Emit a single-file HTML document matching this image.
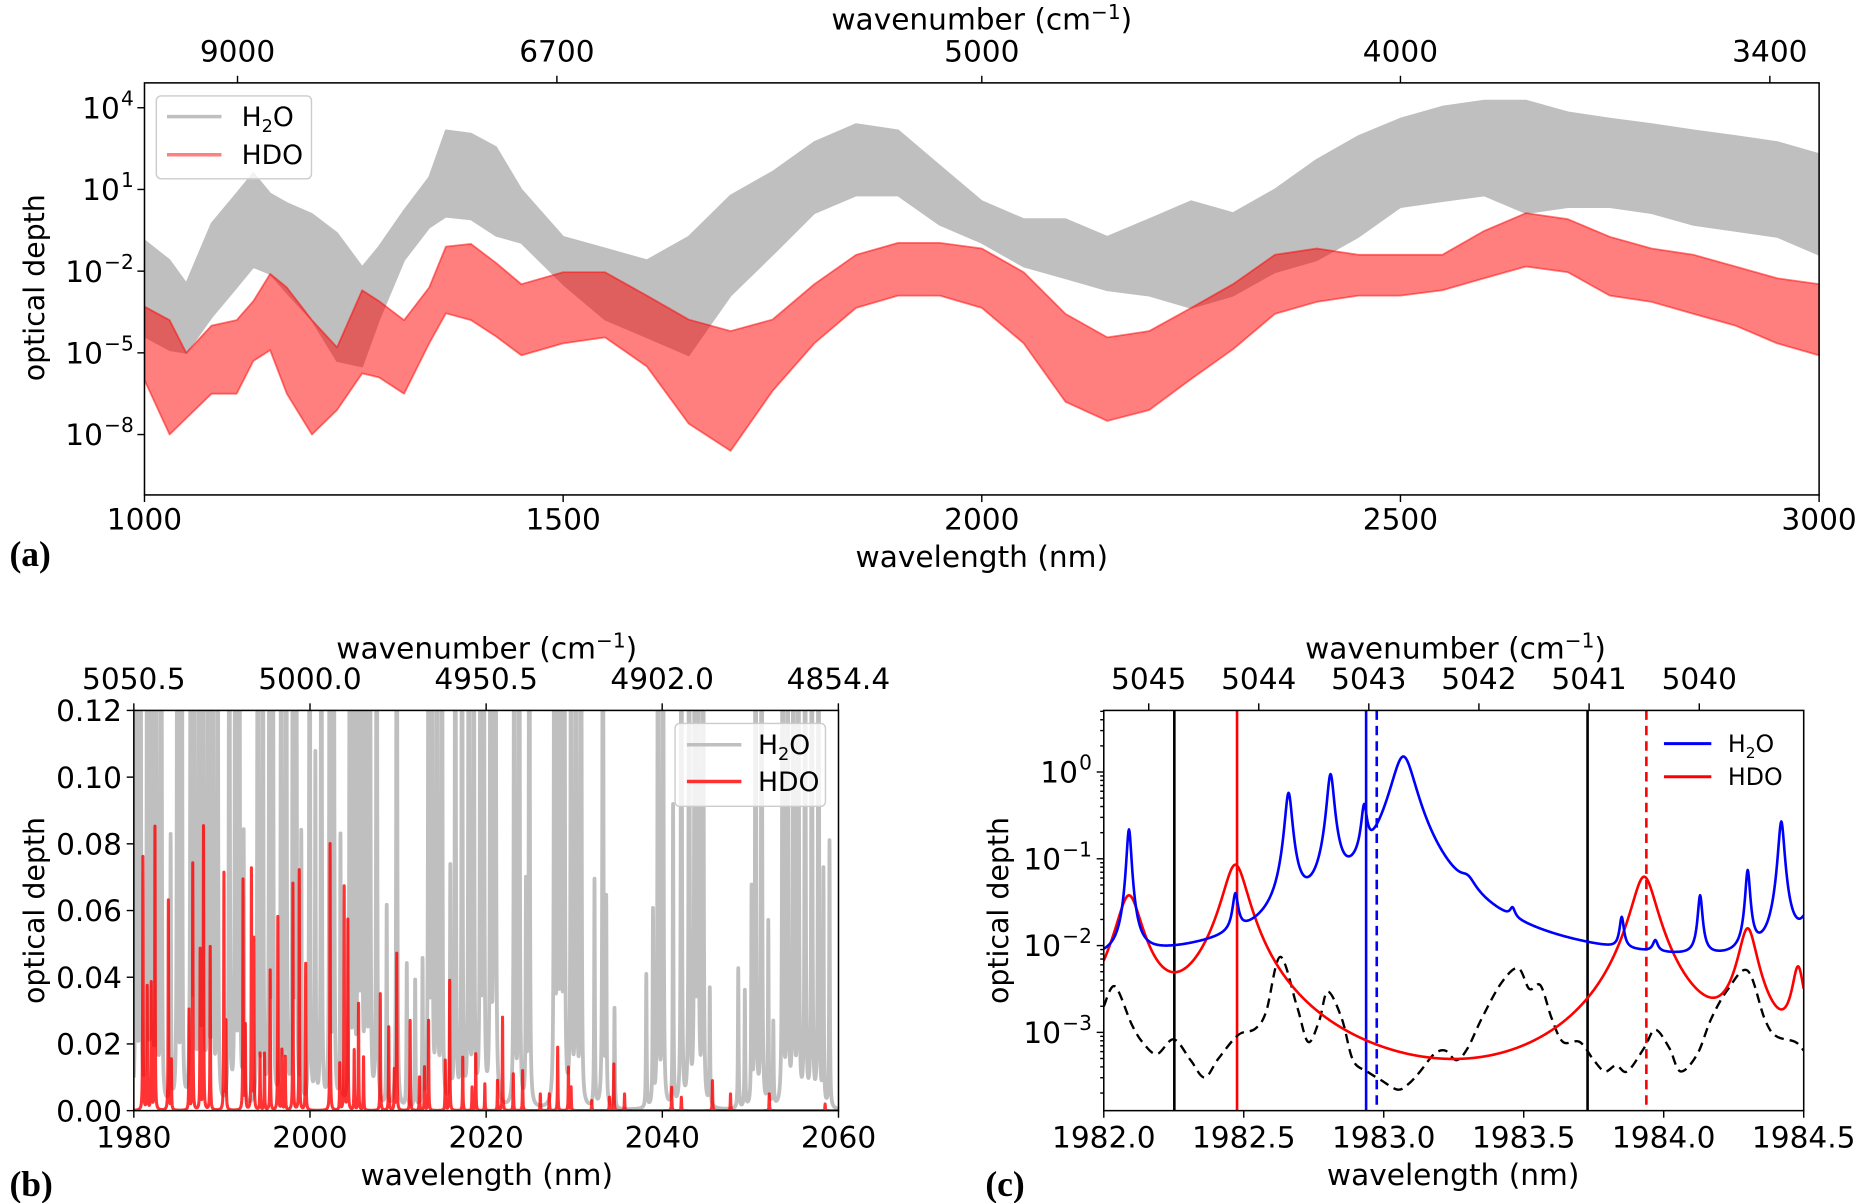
<!DOCTYPE html>
<html><head><meta charset="utf-8"><style>
html,body{margin:0;padding:0;background:#fff}
svg{display:block}
text{font-family:"DejaVu Sans","Liberation Sans",sans-serif;fill:#000}
.lab{font-family:"Liberation Serif",serif;font-weight:bold;font-size:30px}
</style></head><body>
<svg id="fig" xmlns="http://www.w3.org/2000/svg" width="1857" height="1203" viewBox="0 0 1568 1016" preserveAspectRatio="none">
<defs>
<clipPath id="clipA"><rect x="122" y="70" width="1414" height="348"/></clipPath>
<clipPath id="clipB"><rect x="113" y="600" width="595" height="338"/></clipPath>
<clipPath id="clipC"><rect x="932" y="600" width="591" height="338"/></clipPath>
</defs>
<g id="gA"></g>
<g id="gB"></g>
<g id="gC"></g>
<g id="gT" font-size="25">
<text x="829" y="25" text-anchor="middle">wavenumber (cm<tspan dy="-9" font-size="17">−1</tspan><tspan dy="9">)</tspan></text>
<text x="829" y="479" text-anchor="middle">wavelength (nm)</text>
<text transform="translate(37,243) rotate(-90)" text-anchor="middle" font-size="24">optical depth</text>
<text class="lab" x="8" y="478">(a)</text>
<text x="411" y="556" text-anchor="middle">wavenumber (cm<tspan dy="-9" font-size="17">−1</tspan><tspan dy="9">)</tspan></text>
<text x="411" y="1001" text-anchor="middle">wavelength (nm)</text>
<text transform="translate(37,769) rotate(-90)" text-anchor="middle" font-size="24">optical depth</text>
<text class="lab" x="8" y="1010">(b)</text>
<text x="1229" y="556" text-anchor="middle">wavenumber (cm<tspan dy="-9" font-size="17">−1</tspan><tspan dy="9">)</tspan></text>
<text x="1227" y="1001" text-anchor="middle">wavelength (nm)</text>
<text transform="translate(851,769) rotate(-90)" text-anchor="middle" font-size="24">optical depth</text>
<text class="lab" x="832" y="1010">(c)</text>
</g>
<g font-size="22.5">
<rect x="132" y="81" width="131" height="70" rx="4" fill="#fff" fill-opacity="0.8" stroke="#ccc" stroke-width="1.2"/>
<line x1="141" x2="187" y1="98.5" y2="98.5" stroke="#bfbfbf" stroke-width="3"/>
<text x="204" y="106.5">H<tspan dy="5" font-size="15">2</tspan><tspan dy="-5">O</tspan></text>
<line x1="141" x2="187" y1="130.7" y2="130.7" stroke="#ff8080" stroke-width="3"/>
<text x="204" y="138.7">HDO</text>
</g>
<g font-size="22.5">
<rect x="570" y="611" width="127" height="70" rx="4" fill="#fff" fill-opacity="0.8" stroke="#ccc" stroke-width="1.2"/>
<line x1="580" x2="626" y1="629" y2="629" stroke="#bfbfbf" stroke-width="3"/>
<text x="640" y="637">H<tspan dy="5" font-size="15">2</tspan><tspan dy="-5">O</tspan></text>
<line x1="580" x2="626" y1="660" y2="660" stroke="#ff3030" stroke-width="3"/>
<text x="640" y="668">HDO</text>
</g>
<g font-size="20">
<line x1="1405" x2="1445" y1="628" y2="628" stroke="#0000ff" stroke-width="2.5"/>
<text x="1459" y="635">H<tspan dy="5" font-size="13">2</tspan><tspan dy="-5">O</tspan></text>
<line x1="1405" x2="1445" y1="656" y2="656" stroke="#ff0000" stroke-width="2.5"/>
<text x="1459" y="663">HDO</text>
</g>
</svg>
<script>
// ---------- Panel (a) data: log10 envelopes ----------
const aWave = [1000,1030,1050,1080,1110,1130,1150,1170,1200,1230,1260,1280,1310,1340,1360,1390,1420,1450,1500,1550,1600,1650,1700,1750,1800,1850,1900,1950,2000,2050,2100,2150,2200,2250,2300,2350,2400,2450,2500,2550,2600,2650,2700,2750,2800,2850,2900,2950,3000];
const aH2OTop = [-0.87,-1.6,-2.45,-0.25,0.85,1.6,0.85,0.5,0.1,-0.6,-1.85,-1.1,0.23,1.45,3.17,3.05,2.55,1.0,-0.74,-1.17,-1.6,-0.74,0.78,1.65,2.74,3.4,3.17,1.87,0.57,-0.09,-0.09,-0.74,-0.09,0.57,0.13,1.0,2.09,2.96,3.6,4.04,4.26,4.26,3.83,3.6,3.4,3.17,2.96,2.74,2.3];
const aH2OBot = [-4.4,-4.9,-5.0,-3.7,-2.6,-1.85,-2.1,-2.8,-3.8,-5.3,-5.5,-3.8,-1.6,-0.4,0,-0.1,-0.7,-0.96,-2.48,-3.78,-4.43,-5.09,-2.9,-1.4,0.13,0.78,0.78,-0.3,-0.96,-1.83,-2.26,-2.7,-2.9,-3.35,-2.9,-2.04,-1.6,-0.74,0.35,0.57,0.78,0.13,0.35,0.35,0.13,-0.3,-0.52,-0.74,-1.4];
const aHDOTop = [-3.3,-3.8,-5.0,-4.0,-3.8,-3.1,-2.1,-2.6,-3.8,-4.8,-2.7,-3.1,-3.8,-2.6,-1.1,-1.0,-1.7,-2.48,-2.04,-2.04,-2.9,-3.78,-4.2,-3.78,-2.48,-1.4,-0.96,-0.96,-1.17,-2.04,-3.57,-4.43,-4.2,-3.35,-2.48,-1.4,-1.17,-1.4,-1.4,-1.4,-0.52,0.13,-0.09,-0.74,-1.17,-1.4,-1.83,-2.26,-2.48];
const aHDOBot = [-6.0,-8.0,-7.4,-6.5,-6.5,-5.3,-4.9,-6.5,-8.0,-7.1,-5.75,-5.9,-6.5,-4.65,-3.55,-3.8,-4.4,-5.09,-4.65,-4.43,-5.5,-7.6,-8.6,-6.4,-4.65,-3.35,-2.9,-2.9,-3.35,-4.65,-6.8,-7.5,-7.1,-5.96,-4.87,-3.57,-3.13,-2.9,-2.9,-2.7,-2.26,-1.83,-2.04,-2.9,-3.13,-3.57,-4.0,-4.65,-5.09];
const aXTicks = [1000,1500,2000,2500,3000];
const aTopTicks = [9000,6700,5000,4000,3400];
const aYTicks = [4,1,-2,-5,-8];

// ---------- Panel (b) data: line lists (nm, optical depth peak) ----------
const bH2OCenters = [1980.27,1980.76,1981.52,1982.02,1982.55,1983.12,1984.18,1984.94,1985.44,1986.46,1986.84,1987.41,1987.87,1988.44,1988.94,1989.51,1990.84,1991.52,1991.98,1992.47,1994.07,1994.64,1995.40,1995.78,1996.73,1997.30,1998.06,1998.44,1999.01,1999.96,2000.61,2001.29,2002.24,2002.70,2003.46,2004.52,2004.98,2005.48,2005.86,2006.35,2006.81,2007.57,2008.71,2009.85,2010.99,2011.94,2012.78,2013.46,2013.84,2014.41,2014.98,2015.93,2016.50,2017.26,2018.02,2018.59,2019.35,2019.73,2020.49,2020.91,2021.06,2023.19,2023.76,2024.52,2024.90,2027.74,2028.12,2028.50,2028.88,2029.64,2030.21,2030.78,2032.30,2033.25,2033.63,2034.57,2038.18,2038.94,2039.51,2040.08,2041.22,2042.16,2043.04,2043.68,2044.06,2044.63,2045.39,2048.62,2049.37,2050.13,2050.59,2051.27,2052.03,2052.60,2053.66,2054.23,2054.88,2055.45,2056.21,2056.97,2057.73,2058.29,2058.98];
const bH2OPeaks = [0.3,0.3,0.3,0.3,0.3,0.3,0.08,0.3,0.3,0.3,0.3,0.3,0.3,0.3,0.3,0.3,0.3,0.3,0.3,0.08,0.3,0.3,0.3,0.3,0.3,0.3,0.3,0.3,0.08,0.3,0.104,0.3,0.3,0.3,0.08,0.3,0.3,0.3,0.3,0.3,0.3,0.3,0.06,0.3,0.043,0.038,0.043,0.3,0.3,0.3,0.3,0.07,0.3,0.3,0.3,0.3,0.3,0.3,0.3,0.3,0.3,0.3,0.3,0.064,0.3,0.3,0.3,0.3,0.3,0.3,0.3,0.3,0.068,0.3,0.06,0.03,0.04,0.058,0.3,0.3,0.09,0.3,0.3,0.3,0.3,0.3,0.035,0.042,0.035,0.064,0.3,0.3,0.055,0.025,0.3,0.3,0.3,0.3,0.3,0.3,0.3,0.07,0.08];
const bHDOCenters = [1981.03,1981.52,1981.98,1982.40,1983.92,1984.26,1986.27,1986.69,1987.53,1987.91,1988.67,1990.23,1990.46,1992.40,1992.66,1993.35,1993.62,1994.33,1994.83,1995.48,1996.35,1996.81,1997.19,1998.06,1998.78,1999.51,2002.28,2003.38,2003.88,2004.30,2005.02,2005.51,2006.08,2007.98,2008.94,2009.58,2009.85,2011.37,2012.43,2013.00,2013.46,2015.36,2015.86,2017.34,2018.40,2018.82,2019.85,2021.29,2021.86,2023.08,2024.14,2026.15,2027.17,2028.12,2029.34,2029.64,2031.99,2034.00,2034.50,2035.71,2041.06,2042.16,2045.69,2047.74,2052.14,2058.48];
const bHDOPeaks = [0.076,0.037,0.038,0.085,0.063,0.015,0.030,0.074,0.048,0.085,0.049,0.071,0.026,0.069,0.025,0.072,0.051,0.017,0.017,0.042,0.058,0.018,0.016,0.068,0.072,0.044,0.080,0.014,0.067,0.057,0.018,0.032,0.016,0.035,0.025,0.012,0.047,0.027,0.010,0.013,0.027,0.015,0.039,0.016,0.007,0.017,0.008,0.009,0.028,0.011,0.012,0.005,0.005,0.019,0.013,0.007,0.003,0.004,0.014,0.005,0.007,0.004,0.009,0.005,0.005,0.002];
const bXTicks = [1980,2000,2020,2040,2060];
const bTopTicks = ["5050.5","5000.0","4950.5","4902.0","4854.4"];
const bYTicks = [0,0.02,0.04,0.06,0.08,0.10,0.12];

// ---------- Panel (c) data ----------
const cH2OCenters = [1982.09,1982.47,1982.66,1982.81,1982.93,1983.07,1983.30,1983.46,1983.85,1983.97,1984.13,1984.30,1984.42,1984.56];
const cH2OPeaks = [0.21,0.025,0.55,0.9,0.3,1.5,0.015,0.006,0.012,0.003,0.03,0.065,0.26,0.12];
const cH2OWidths = [0.008,0.01,0.012,0.012,0.01,0.04,0.03,0.01,0.008,0.01,0.008,0.008,0.01,0.02];
const cH2OBackground = [0.005];
const cHDOCenters = [1982.09,1982.47,1983.93,1984.30,1984.48];
const cHDOPeaks = [0.037,0.085,0.062,0.015,0.005];
const cHDOWidths = [0.04,0.04,0.04,0.03,0.02];
const cRatioWave = [1982.00,1982.04,1982.10,1982.14,1982.19,1982.25,1982.31,1982.36,1982.41,1982.48,1982.54,1982.58,1982.63,1982.69,1982.73,1982.77,1982.80,1982.85,1982.89,1982.94,1982.99,1983.05,1983.09,1983.13,1983.18,1983.22,1983.26,1983.30,1983.35,1983.42,1983.48,1983.52,1983.56,1983.60,1983.64,1983.70,1983.75,1983.79,1983.83,1983.87,1983.93,1983.97,1984.02,1984.06,1984.12,1984.17,1984.23,1984.30,1984.36,1984.40,1984.47,1984.50];
const cRatioLog = [-2.70,-2.47,-2.91,-3.12,-3.25,-3.08,-3.32,-3.52,-3.30,-3.03,-2.96,-2.76,-2.13,-2.70,-3.11,-2.86,-2.53,-2.84,-3.32,-3.45,-3.55,-3.66,-3.59,-3.45,-3.25,-3.21,-3.32,-3.18,-2.84,-2.43,-2.26,-2.50,-2.46,-2.84,-3.11,-3.11,-3.32,-3.45,-3.38,-3.45,-3.18,-2.97,-3.18,-3.45,-3.25,-2.84,-2.50,-2.29,-2.84,-3.04,-3.11,-3.21];
const cVLines = [1982.252,1982.476,1982.937,1982.975,1983.728,1983.938];
const cVColors = ["#000","#f00","#00f","#00f","#000","#f00"];
const cVDashed = [false,false,false,true,false,true];
const cXTicks = ["1982.0","1982.5","1983.0","1983.5","1984.0","1984.5"];
const cTopTicks = [5045,5044,5043,5042,5041,5040];
const cYTicks = [0,-1,-2,-3];

// ---------- axis functions ----------
const xa = l => 122 + (l - 1000) / 2000 * 1414;
const ya = g => 91 + (4 - g) * 23;
const xb = l => 113 + (l - 1980) / 80 * 595;
const yb = v => 938 - v / 0.12 * 338;
const xc = l => 932 + (l - 1982) * 236.4;
const yc = v => 652 - Math.log10(v) * 73.3;

const NS = 'http://www.w3.org/2000/svg';
function mk(tag, attrs, parent) {
  const e = document.createElementNS(NS, tag);
  for (const k in attrs) e.setAttribute(k, attrs[k]);
  parent.appendChild(e);
  return e;
}
const gA = document.getElementById('gA'), gB = document.getElementById('gB'), gC = document.getElementById('gC');

function lor(x, cs, ps, ws) {
  let s = 0;
  for (let i = 0; i < cs.length; i++) { const d = x - cs[i]; const w = Array.isArray(ws) ? ws[i] : ws; s += ps[i] * w * w / (d * d + w * w); }
  return s;
}

function frame(g, x0, y0, x1, y1, name) {
  const r = mk('rect', {x: x0, y: y0, width: x1 - x0, height: y1 - y0, fill: 'none', stroke: '#000', 'stroke-width': 1.3}, g);
  
  
}
function tick(g, x1, y1, x2, y2, name) {
  const t = mk('line', {x1, y1, x2, y2, stroke: '#000', 'stroke-width': 1.2}, g);
  
  
}
function label(g, x, y, txt, anchor, name) {
  const t = mk('text', {x, y, 'text-anchor': anchor, 'font-size': 25}, g);
  
  
  t.textContent = txt;
}
// power-of-ten label: superscript right edge at xEnd
function powLabel(g, xEnd, y, exp, name) {
  const s = mk('text', {x: xEnd, y: y - 11, 'text-anchor': 'end', 'font-size': 17}, g);
  
  
  s.textContent = exp < 0 ? '\u2212' + Math.abs(exp) : String(exp);
  let w = 10;
  try { w = s.getComputedTextLength(); } catch (e) {}
  const b = mk('text', {x: xEnd - w - 1, y, 'text-anchor': 'end', 'font-size': 25}, g);
  
  
  b.textContent = '10';
}

// ---------- Panel (a) ----------
(function () {
  const cg = mk('g', {'clip-path': 'url(#clipA)'}, gA);
  
  
  function band(top, bot, fill, op, name) {
    let d = '';
    for (let i = 0; i < aWave.length; i++) d += (i ? 'L' : 'M') + xa(aWave[i]).toFixed(1) + ',' + ya(top[i]).toFixed(1);
    for (let i = aWave.length - 1; i >= 0; i--) d += 'L' + xa(aWave[i]).toFixed(1) + ',' + ya(bot[i]).toFixed(1);
    const p = mk('path', {d: d + 'Z', fill, 'fill-opacity': op, stroke: fill, 'stroke-opacity': op, 'stroke-width': 1.5, 'stroke-linejoin': 'round'}, cg);
    
    
  }
  band(aH2OTop, aH2OBot, '#bfbfbf', 1, 'h2o-spectrum-band');
  band(aHDOTop, aHDOBot, '#ff0000', 0.5, 'hdo-spectrum-band');
  frame(gA, 122, 70, 1536, 418, 'panel-a-frame');
  aXTicks.forEach(v => {
    tick(gA, xa(v), 418, xa(v), 424, 'x-tick-a');
    label(gA, xa(v), 447, String(v), 'middle', 'x-tick-label-a');
  });
  aTopTicks.forEach(v => {
    const x = xa(1e7 / v);
    tick(gA, x, 70, x, 64, 'top-tick-a');
    label(gA, x, 52, String(v), 'middle', 'top-tick-label-a');
  });
  aYTicks.forEach(v => {
    tick(gA, 122, ya(v), 116, ya(v), 'y-tick-a');
    powLabel(gA, 113, ya(v) + 9, v, 'y-tick-label-a');
  });
})();

// ---------- Panel (b) ----------
(function () {
  const cg = mk('g', {'clip-path': 'url(#clipB)'}, gB);
  
  
  function series(cs, ps, w, color, op, sw, name) {
    let d = '';
    for (let l = 1980; l <= 2060.001; l += 0.01) {
      const v = Math.min(lor(l, cs, ps, w), 0.2);
      d += (d ? 'L' : 'M') + xb(l).toFixed(2) + ',' + yb(v).toFixed(2);
    }
    const p = mk('path', {d, fill: 'none', stroke: color, 'stroke-opacity': op, 'stroke-width': sw, 'stroke-linejoin': 'round'}, cg);
    
    
  }
  series(bH2OCenters, bH2OPeaks, 0.045, '#bfbfbf', 1, 3.2, 'h2o-line-spectrum');
  series(bHDOCenters, bHDOPeaks, 0.03, '#ff0000', 0.8, 2.6, 'hdo-line-spectrum');
  frame(gB, 113, 600, 708, 938, 'panel-b-frame');
  bXTicks.forEach(v => {
    tick(gB, xb(v), 938, xb(v), 944, 'x-tick-b');
    label(gB, xb(v), 969, String(v), 'middle', 'x-tick-label-b');
  });
  bTopTicks.forEach(v => {
    const x = xb(1e7 / parseFloat(v));
    tick(gB, x, 600, x, 594, 'top-tick-b');
    label(gB, x, 582, v, 'middle', 'top-tick-label-b');
  });
  bYTicks.forEach(v => {
    tick(gB, 113, yb(v), 107, yb(v), 'y-tick-b');
    label(gB, 103, yb(v) + 9, v.toFixed(2), 'end', 'y-tick-label-b');
  });
})();

// ---------- Panel (c) ----------
(function () {
  const cg = mk('g', {'clip-path': 'url(#clipC)'}, gC);
  
  
  cVLines.forEach((l, i) => {
    const ln = mk('line', {x1: xc(l), x2: xc(l), y1: 600, y2: 938, stroke: cVColors[i], 'stroke-width': 2.2}, cg);
    if (cVDashed[i]) ln.setAttribute('stroke-dasharray', '8,5');
    
    
  });
  const pts = cRatioWave.map((l, i) => [xc(l), yc(Math.pow(10, cRatioLog[i]))]);
  let d = 'M' + pts[0][0] + ',' + pts[0][1];
  for (let i = 0; i < pts.length - 1; i++) {
    const p0 = pts[Math.max(0, i - 1)], p1 = pts[i], p2 = pts[i + 1], p3 = pts[Math.min(pts.length - 1, i + 2)];
    d += 'C' + (p1[0] + (p2[0] - p0[0]) / 6).toFixed(2) + ',' + (p1[1] + (p2[1] - p0[1]) / 6).toFixed(2) + ' ' +
      (p2[0] - (p3[0] - p1[0]) / 6).toFixed(2) + ',' + (p2[1] - (p3[1] - p1[1]) / 6).toFixed(2) + ' ' + p2[0].toFixed(2) + ',' + p2[1].toFixed(2);
  }
  const rp = mk('path', {d, fill: 'none', stroke: '#000', 'stroke-width': 2, 'stroke-dasharray': '8,5'}, cg);
  
  
  function curve(cs, ps, ws, bg, color, name) {
    let dd = '';
    for (let l = 1982; l <= 1984.5001; l += 0.002) {
      const v = lor(l, cs, ps, ws) + bg;
      dd += (dd ? 'L' : 'M') + xc(l).toFixed(2) + ',' + yc(v).toFixed(2);
    }
    const p = mk('path', {d: dd, fill: 'none', stroke: color, 'stroke-width': 2.2, 'stroke-linejoin': 'round'}, cg);
    
    
  }
  curve(cHDOCenters, cHDOPeaks, cHDOWidths, 0, '#ff0000', 'hdo-curve');
  curve(cH2OCenters, cH2OPeaks, cH2OWidths, cH2OBackground[0], '#0000ff', 'h2o-curve');
  frame(gC, 932, 600, 1523, 938, 'panel-c-frame');
  cXTicks.forEach(v => {
    const x = xc(parseFloat(v));
    tick(gC, x, 938, x, 944, 'x-tick-c');
    label(gC, x, 969, v, 'middle', 'x-tick-label-c');
  });
  cTopTicks.forEach(v => {
    const x = xc(1e7 / v);
    tick(gC, x, 600, x, 594, 'top-tick-c');
    label(gC, x, 582, String(v), 'middle', 'top-tick-label-c');
  });
  cYTicks.forEach(v => {
    tick(gC, 932, yc(Math.pow(10, v)), 926, yc(Math.pow(10, v)), 'y-tick-c');
    powLabel(gC, 922, yc(Math.pow(10, v)) + 9, v, 'y-tick-label-c');
  });
  for (let e = -4; e <= 0; e++) for (let m = 2; m <= 9; m++) {
    const y = yc(m * Math.pow(10, e));
    if (y < 600 || y > 938) continue;
    tick(gC, 932, y, 929, y, 'y-minor-tick-c');
  }
})();
</script>
</body></html>
